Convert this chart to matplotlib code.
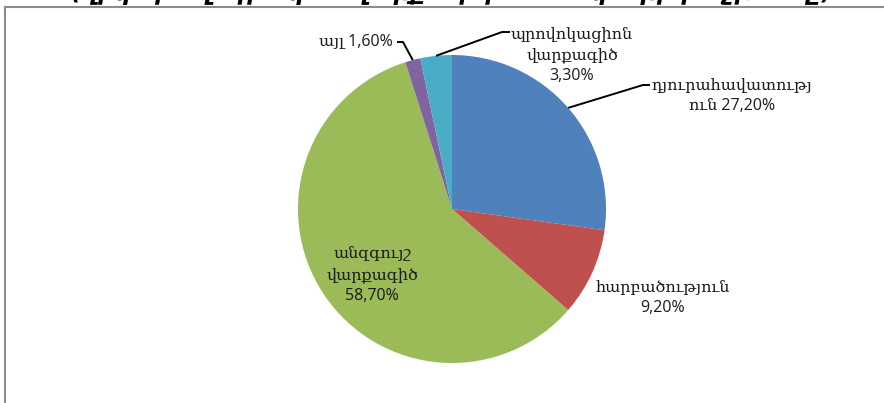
import numpy as np
import matplotlib
matplotlib.use("Agg")
import matplotlib.pyplot as plt

# data
categories = ["դյուրահավատություն", "հարբածություն", "անզգույշ վարքագիծ",
              "այլ", "պրովոկացիոն վարքագիծ"]
shares = [27.2, 9.2, 58.7, 1.6, 3.3]
label_texts = ["դյուրահավատությ\nուն 27,20%", "հարբածություն\n9,20%",
               "անզգույշ\nվարքագիծ\n58,70%", "այլ 1,60%",
               "պրովոկացիոն\nվարքագիծ\n3,30%"]
colors = ["#4F81BD", "#C0504D", "#9BBB59", "#8064A2", "#4BACC6"]
title = "(վիկտիմոլոգիական վարքագծի տեսակների բաշխումը)"

W, H = 884, 403
fig = plt.figure(figsize=(W / 100, H / 100), dpi=100)
ax = fig.add_axes([0, 0, 1, 1])

# helper: pixel (from top) -> data y
def py(y):
    return H - y

cx, cy, R = 452, py(209), 154
wedges, _ = ax.pie(shares, colors=colors, startangle=90, counterclock=False,
                   center=(cx, cy), radius=R, frame=True,
                   wedgeprops=dict(edgecolor="none"))
ax.set_xlim(0, W)
ax.set_ylim(0, H)
ax.axis("off")

lab_font = ["Open Sans", "DejaVu Serif"]
# label anchor points (pixels from top-left)
lab_pos = [(732, 96), (663, 298), (372, 275), (393, 42), (572, 55)]
lab_ha = ["center", "center", "center", "right", "center"]
# leader lines: text end x, elbow x, y
leaders = {0: (650, 643, 85), 3: (397, 403, 42), 4: (510, 502, 32)}

for i, w in enumerate(wedges):
    x, y = lab_pos[i]
    ax.text(x, py(y), label_texts[i], ha=lab_ha[i], va="center",
            fontsize=11.5, family=lab_font, color="#1a1a1a", linespacing=1.4)
    if i in leaders:
        x0, x1, yl = leaders[i]
        mid = np.deg2rad((w.theta1 + w.theta2) / 2)
        ex = cx + R * np.cos(mid)
        ey = cy + R * np.sin(mid)
        ax.plot([x0, x1, ex], [py(yl), py(yl), ey], color="black", lw=1.4,
                solid_capstyle="butt")

# chart frame (only top and left edges visible)
ax.plot([5, W], [py(6.5), py(6.5)], color="#8c8c8c", lw=1.5)
ax.plot([5, 5], [py(6.5), 0], color="#8c8c8c", lw=1.5)

# title, cut off at the top of the picture
ax.text(452, py(5), title, ha="center", va="bottom", fontsize=16.7,
        fontweight="bold", fontstyle="italic", family=["DejaVu Sans"])

fig.savefig("out.png", dpi=100)
